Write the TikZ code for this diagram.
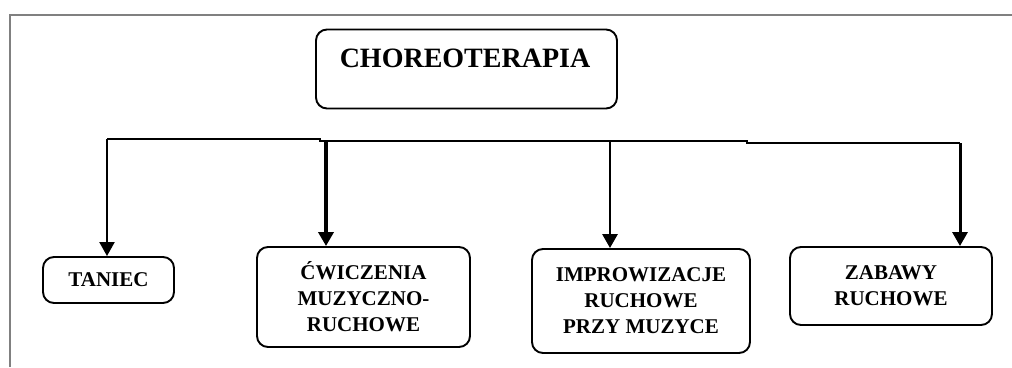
\documentclass[tikz,border=0pt]{standalone}
\usepackage{fontspec}
\setmainfont{Liberation Serif}
\usetikzlibrary{arrows.meta}
\tikzset{
  box/.style={draw=black, line width=1.9pt, rounded corners=11pt, inner sep=0pt, align=center,
    font=\fontsize{21}{26}\selectfont\bfseries},
  bus/.style={draw=black, line width=2pt},
  conn/.style={draw=black, -{Triangle[width=15pt,length=14pt]}},
  frame/.style={draw=gray, line width=1.8pt}
}
\begin{document}
\begin{tikzpicture}[x=1pt,y=-1pt]
\useasboundingbox (0,0) rectangle (1012,367);
\fill[white] (0,0) rectangle (1012,367);
% frame
\coordinate (fb) at (10,367);
\coordinate (ftl) at (10,15);
\coordinate (fr) at (1012,15);
\draw[frame] (fb) -- (ftl) -- (fr);
% root
\node[box, minimum width=301pt, minimum height=79pt] (root) at (466.5,69) {};
\node[font=\fontsize{28}{32}\selectfont\bfseries, inner sep=0pt] (roottxt) at (465,58) {CHOREOTERAPIA};
% children
\node[box, minimum width=131pt, minimum height=46pt] (taniec) at (108.5,280) {TANIEC};
\node[box, minimum width=213pt, minimum height=100pt] (cw) at (363.5,297) {ĆWICZENIA\\MUZYCZNO-\\RUCHOWE};
\node[box, minimum width=218pt, minimum height=104pt] (imp) at (641,301) {IMPROWIZACJE\\RUCHOWE\\PRZY MUZYCE};
\node[box, minimum width=202pt, minimum height=78pt] (zab) at (891,286) {ZABAWY\\RUCHOWE};
% bus
\coordinate (b1) at (107,139);
\coordinate (b2) at (326,141);
\coordinate (b3) at (610,141);
\coordinate (b4) at (960,143);
\coordinate (s1) at (320,139);
\coordinate (s2) at (320,141);
\coordinate (s3) at (747,141);
\coordinate (s4) at (747,143);
\draw[bus] (b1) -- (s1) -- (s2) -- (s3) -- (s4) -- (b4);
% connectors
\draw[conn, line width=2.2pt] (b1) -- (b1 |- taniec.north);
\draw[conn, line width=4.2pt] (b2) -- (b2 |- cw.north);
\draw[conn, line width=2.8pt] (b3) -- (b3 |- imp.north);
\draw[conn, line width=3pt] (b4) -- (b4 |- zab.north);
\end{tikzpicture}
\end{document}
